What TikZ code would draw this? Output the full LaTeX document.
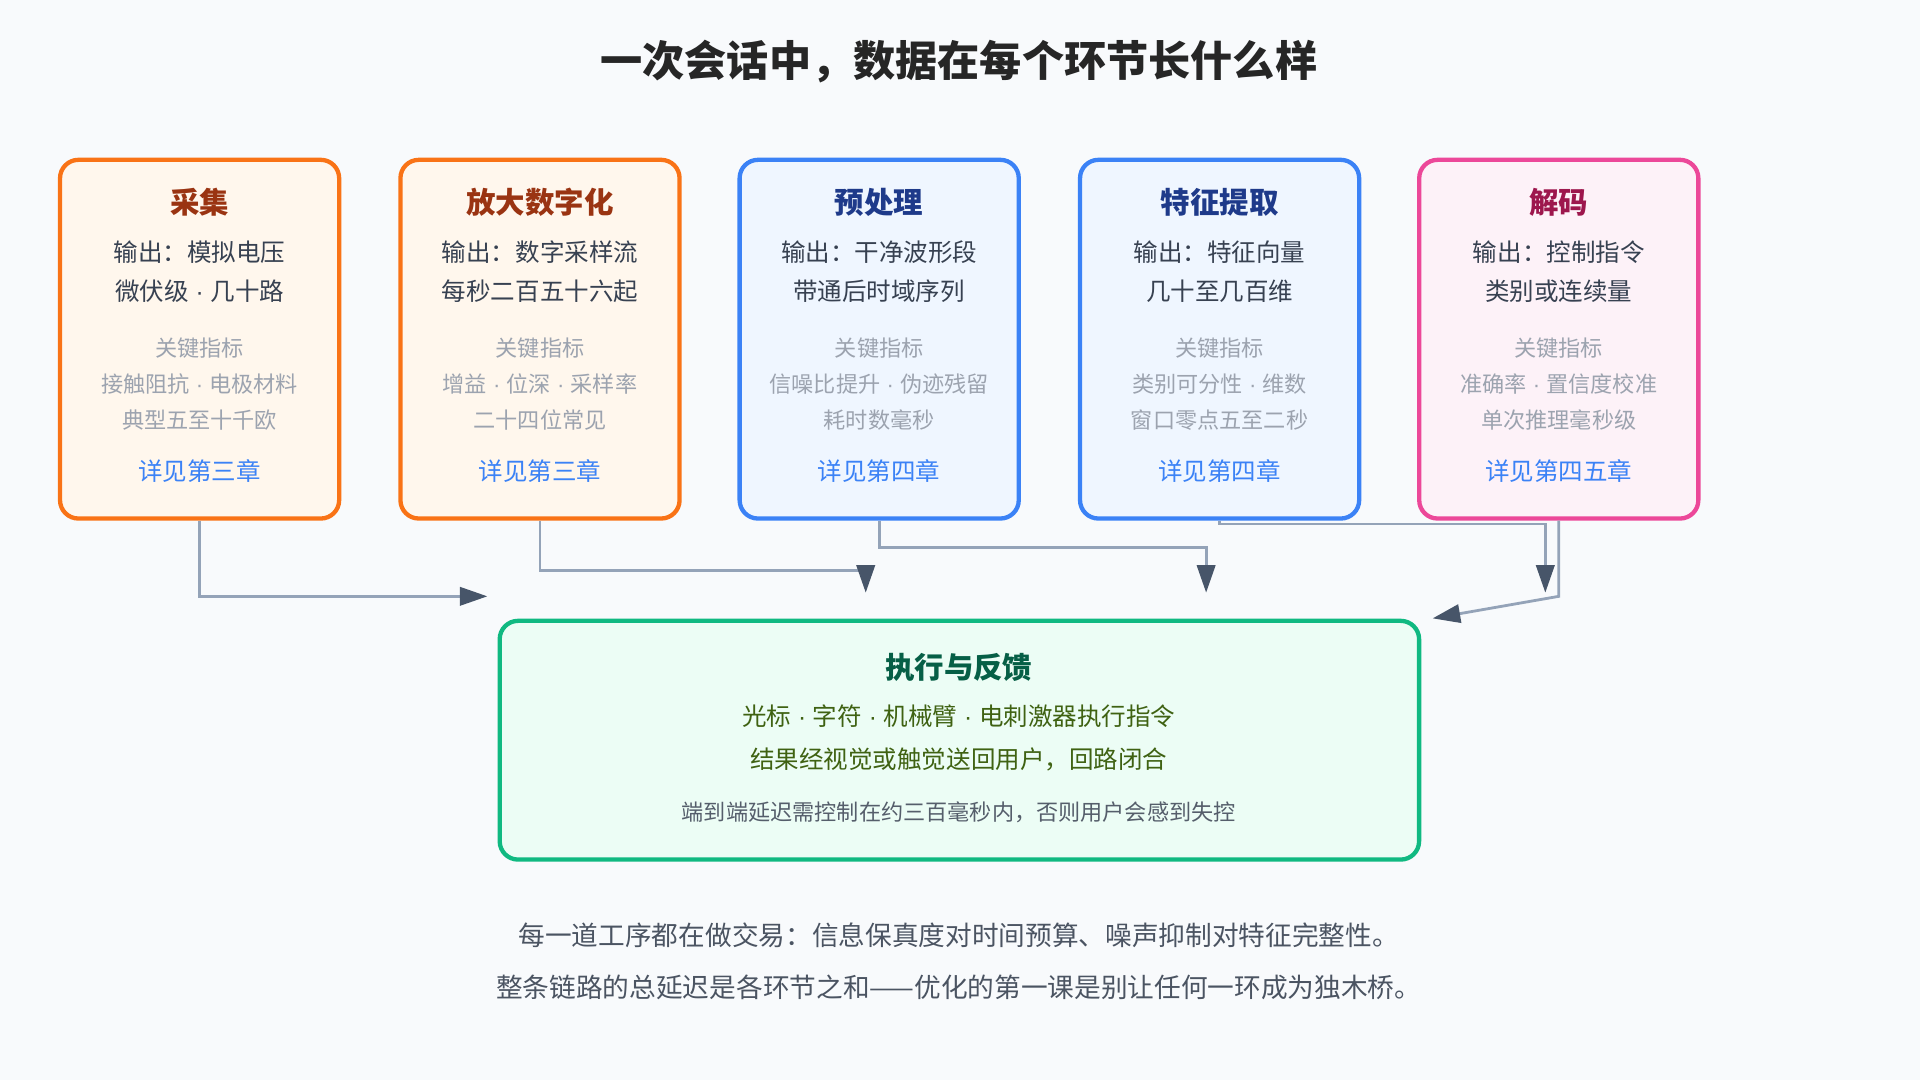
\documentclass[tikz,border=0pt]{standalone}
\usepackage{fontspec}
\setmainfont{Noto Sans CJK SC}
\newfontfamily\latfont{Liberation Sans}
\newcommand{\dt}{{\latfont\ ·\ }}
\usetikzlibrary{arrows.meta}
\definecolor{bg}{HTML}{F8FAFC}
\definecolor{ink}{HTML}{374151}
\definecolor{mute}{HTML}{9CA3AF}
\definecolor{link}{HTML}{3B82F6}
\definecolor{wire}{HTML}{94A3B8}
\definecolor{tip}{HTML}{475569}
\definecolor{orb}{HTML}{F97316}\definecolor{orf}{HTML}{FFF7ED}\definecolor{ort}{HTML}{9A3412}
\definecolor{blb}{HTML}{3B82F6}\definecolor{blf}{HTML}{EFF6FF}\definecolor{blt}{HTML}{1E3A8A}
\definecolor{pkb}{HTML}{EC4899}\definecolor{pkf}{HTML}{FDF2F8}\definecolor{pkt}{HTML}{9D174D}
\definecolor{gnb}{HTML}{10B981}\definecolor{gnf}{HTML}{ECFDF5}\definecolor{gnt}{HTML}{065F46}
\definecolor{gnl}{HTML}{3F6212}
\tikzset{
  stage/.style={draw=#1, line width=2pt, rounded corners=0.3cm, minimum width=4.56cm, minimum height=5.86cm},
  head/.style={font=\fontsize{13.7}{15}\selectfont\bfseries, text=#1},
  line/.style={font=\fontsize{11.4}{13}\selectfont, text=ink},
  key/.style={font=\fontsize{10.3}{12}\selectfont, text=mute},
  more/.style={font=\fontsize{11.4}{13}\selectfont, text=link},
  flow/.style={draw=wire, line width=1.3pt, -{Triangle[length=0.45cm,width=0.3cm,color=tip]}}
}
\begin{document}
\begin{tikzpicture}[x=0.02cm, y=-0.02cm]
\fill[bg] (0,0) rectangle (1568,882);
\node[font=\fontsize{19.6}{22}\selectfont\bfseries, text=black!85] (title) at (783,50) {一次会话中，数据在每个环节长什么样};

% stage boxes
\node[stage=orb, fill=orf] (caiji) at (163,277) {};
\node[stage=orb, fill=orf] (fangda) at (441,277) {};
\node[stage=blb, fill=blf] (yuchuli) at (718,277) {};
\node[stage=blb, fill=blf] (tezheng) at (996,277) {};
\node[stage=pkb, fill=pkf] (jiema) at (1273,277) {};

% stage texts
\foreach \n/\x/\c/\h/\a/\b/\k/\p/\q in {
  caiji/163/ort/采集/输出：模拟电压/微伏级\dt 几十路/接触阻抗\dt 电极材料/典型五至十千欧/详见第三章,
  fangda/441/ort/放大数字化/输出：数字采样流/每秒二百五十六起/增益\dt 位深\dt 采样率/二十四位常见/详见第三章,
  yuchuli/718/blt/预处理/输出：干净波形段/带通后时域序列/信噪比提升\dt 伪迹残留/耗时数毫秒/详见第四章,
  tezheng/996/blt/特征提取/输出：特征向量/几十至几百维/类别可分性\dt 维数/窗口零点五至二秒/详见第四章,
  jiema/1273/pkt/解码/输出：控制指令/类别或连续量/准确率\dt 置信度校准/单次推理毫秒级/详见第四五章}{
  \node[head=\c] (\n-h) at (\x,165) {\h};
  \node[line] (\n-a) at (\x,206) {\a};
  \node[line] (\n-b) at (\x,238) {\b};
  \node[key] (\n-k) at (\x,284) {关键指标};
  \node[key] (\n-p) at (\x,314) {\k};
  \node[key] (\n-q) at (\x,343) {\p};
  \node[more] (\n-r) at (\x,385) {\q};
}

% feedback box
\node[stage=gnb, fill=gnf, minimum width=15.02cm, minimum height=3.9cm] (zhixing) at (783.5,604.5) {};
\node[head=gnt] (zhixing-h) at (783,545) {执行与反馈};
\node[line, text=gnl] (zhixing-a) at (783,585) {光标\dt 字符\dt 机械臂\dt 电刺激器执行指令};
\node[line, text=gnl] (zhixing-b) at (783,620) {结果经视觉或触觉送回用户，回路闭合};
\node[key, text=ink!85] (zhixing-c) at (783,663) {端到端延迟需控制在约三百毫秒内，否则用户会感到失控};

% connectors
\coordinate (in1) at (398,487);
\coordinate (in2) at (707,484);
\coordinate (in3) at (985,484);
\coordinate (in4) at (1262,484);
\coordinate (in5) at (1170,505);
\draw[flow] (caiji.south) |- (in1);
\draw[flow] (fangda.south) |- (441,466) -| (in2);
\draw[flow] (yuchuli.south) |- (718,447) -| (in3);
\draw[flow] (tezheng.south) |- (996,428) -| (in4);
\draw[flow] (jiema.south) -- (1273,487) -- (in5);

% footer
\node[line, font=\fontsize{12.4}{14}\selectfont, text=ink!90] (note1) at (783,764) {每一道工序都在做交易：信息保真度对时间预算、噪声抑制对特征完整性。};
\node[line, font=\fontsize{12.4}{14}\selectfont, text=ink!90] (note2) at (783,806) {整条链路的总延迟是各环节之和——优化的第一课是别让任何一环成为独木桥。};
\end{tikzpicture}
\end{document}
